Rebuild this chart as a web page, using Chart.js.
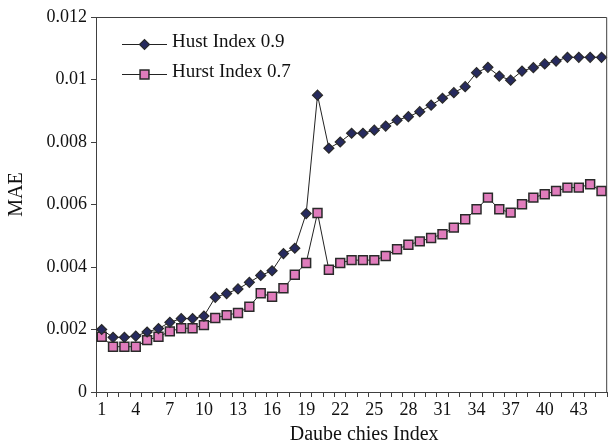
<!DOCTYPE html>
<html>
<head>
<meta charset="utf-8">
<script src="https://cdn.jsdelivr.net/npm/chart.js@4"></script>
<style>
  html, body { margin: 0; padding: 0; background: #fff; }
  #wrap { width: 615px; height: 448px; }
</style>
</head>
<body>
<div id="wrap"><canvas id="c" width="615" height="448"></canvas></div>
<script>
const categories = [1,2,3,4,5,6,7,8,9,10,11,12,13,14,15,16,17,18,19,20,21,22,23,24,25,26,27,28,29,30,31,32,33,34,35,36,37,38,39,40,41,42,43,44,45];
const shownTickLabels = [1,4,7,10,13,16,19,22,25,28,31,34,37,40,43];
const yTickValues = [0,0.002,0.004,0.006,0.008,0.01,0.012];
const seriesNames = ['Hust Index 0.9', 'Hurst Index 0.7'];
const hurst09 = [0.00200,0.00175,0.00175,0.00179,0.00192,0.00203,0.00223,0.00235,0.00235,0.00243,
                 0.00303,0.00315,0.00330,0.00351,0.00373,0.00388,0.00443,0.00460,0.00571,0.00950,
                 0.00780,0.00800,0.00828,0.00828,0.00838,0.00851,0.00870,0.00881,0.00897,0.00918,
                 0.00940,0.00958,0.00977,0.01022,0.01039,0.01011,0.00998,0.01027,0.01038,0.01050,
                 0.01059,0.01071,0.01071,0.01071,0.01071];
const hurst07 = [0.00177,0.00145,0.00145,0.00145,0.00166,0.00177,0.00194,0.00204,0.00204,0.00214,
                 0.00237,0.00246,0.00253,0.00273,0.00316,0.00305,0.00332,0.00375,0.00413,0.00573,
                 0.00391,0.00413,0.00422,0.00422,0.00422,0.00435,0.00457,0.00471,0.00482,0.00493,
                 0.00505,0.00526,0.00553,0.00585,0.00622,0.00585,0.00574,0.00601,0.00622,0.00633,
                 0.00643,0.00654,0.00654,0.00665,0.00643];

const FONT = 'Liberation Serif, Times New Roman, serif';
const AXIS = '#404040';

const frame = {
  id: 'frame',
  afterDatasetsDraw(chart) {
    const {ctx, chartArea: a} = chart;
    ctx.save();
    ctx.strokeStyle = AXIS;
    ctx.lineWidth = 1;
    ctx.beginPath();
    ctx.moveTo(a.left, a.top + 0.5);
    ctx.lineTo(a.right - 0.5, a.top + 0.5);
    ctx.lineTo(a.right - 0.5, a.bottom);
    ctx.stroke();
    ctx.restore();
  }
};

const legendPlugin = {
  id: 'customLegend',
  afterDraw(chart) {
    const {ctx} = chart;
    const rows = [42, 72];
    ctx.save();
    chart.data.datasets.forEach((ds, i) => {
      const y = rows[i];
      const ly = y + 2;
      ctx.strokeStyle = ds.borderColor;
      ctx.lineWidth = 1;
      ctx.beginPath();
      ctx.moveTo(122, ly + 0.5);
      ctx.lineTo(167, ly + 0.5);
      ctx.stroke();
      ctx.fillStyle = ds.pointBackgroundColor;
      ctx.strokeStyle = ds.pointBorderColor;
      ctx.lineWidth = ds.pointBorderWidth;
      Chart.helpers.drawPoint(ctx, {pointStyle: ds.pointStyle, radius: ds.pointRadius, borderWidth: ds.pointBorderWidth}, 144.5, ly + 0.5);
      ctx.fillStyle = '#111';
      ctx.font = '19px ' + FONT;
      ctx.textBaseline = 'middle';
      ctx.textAlign = 'left';
      ctx.fillText(ds.label, 172, y);
    });
    ctx.restore();
  }
};

new Chart(document.getElementById('c'), {
  type: 'line',
  data: {
    labels: categories,
    datasets: [
      {
        label: seriesNames[0],
        data: hurst09,
        borderColor: '#222',
        borderWidth: 1,
        pointStyle: 'rectRot',
        pointRadius: 5,
        pointBackgroundColor: '#262a5e',
        pointBorderColor: '#2a2a2a',
        pointBorderWidth: 1.2,
        tension: 0
      },
      {
        label: seriesNames[1],
        data: hurst07,
        borderColor: '#222',
        borderWidth: 1,
        pointStyle: 'rect',
        pointRadius: 6.3,
        pointBackgroundColor: '#e07cbc',
        pointBorderColor: '#2a2a2a',
        pointBorderWidth: 1.5,
        tension: 0
      }
    ]
  },
  options: {
    responsive: false,
    animation: false,
    events: [],
    layout: { padding: { left: 5, right: 5, top: 17, bottom: 1 } },
    plugins: { legend: { display: false }, tooltip: { enabled: false } },
    scales: {
      x: {
        type: 'category',
        offset: true,
        grid: { display: true, drawOnChartArea: false, offset: true, tickLength: 5, color: AXIS, tickColor: AXIS },
        border: { display: true, color: AXIS, width: 1 },
        ticks: {
          autoSkip: false, maxRotation: 0, minRotation: 0, padding: 2,
          color: '#111', font: { family: FONT, size: 18 },
          callback(v, i) { const c = categories[i]; return shownTickLabels.includes(c) ? String(c) : ''; }
        },
        title: { display: true, text: '     Daube chies Index', color: '#111', font: { family: FONT, size: 20, lineHeight: 1.2 }, padding: 0 },
        afterFit(s) { s.height = 55; }
      },
      y: {
        min: 0, max: 0.012,
        afterBuildTicks(s) { s.ticks = yTickValues.map(v => ({ value: v })); },
        grid: { display: true, drawOnChartArea: false, tickLength: 5, color: AXIS, tickColor: AXIS },
        border: { display: true, color: AXIS, width: 1 },
        ticks: {
          padding: 4, color: '#111', font: { family: FONT, size: 18 },
          callback(v) { return String(+v.toFixed(3)); }
        },
        title: { display: true, text: '    MAE', color: '#111', font: { family: FONT, size: 20, lineHeight: 1.2 }, padding: 0 },
        afterFit(s) { s.width = 91; }
      }
    }
  },
  plugins: [frame, legendPlugin]
});
</script>
</body>
</html>
